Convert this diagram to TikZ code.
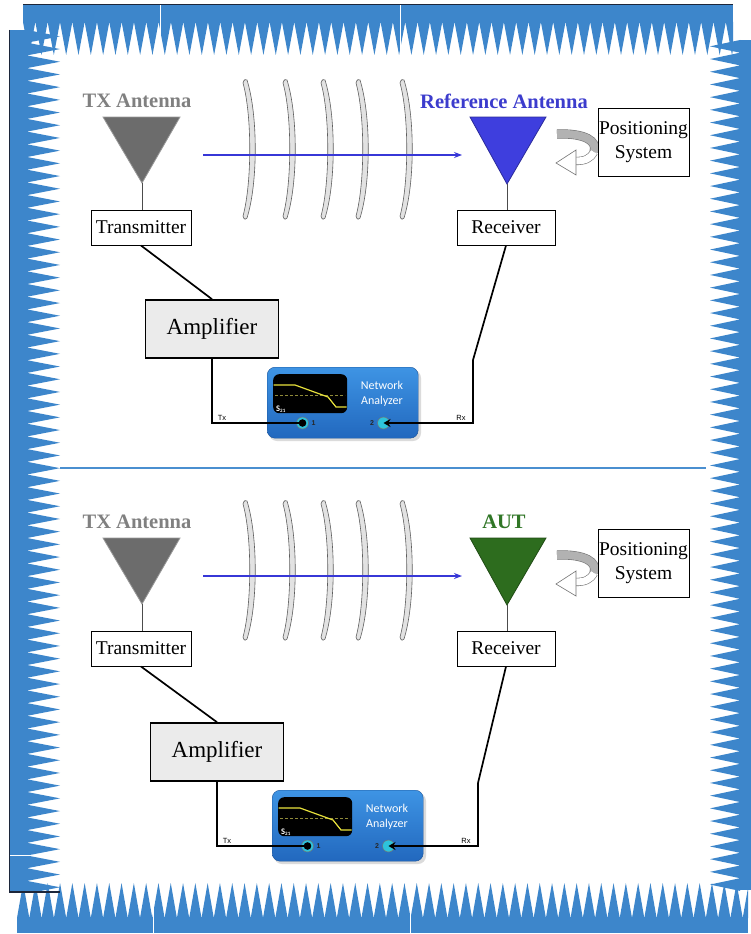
\documentclass[tikz,border=0pt]{standalone}
\usepackage{fontspec}
\setmainfont{Liberation Serif}
\newfontfamily\nafont{Carlito}
\newfontfamily\smallsans{Liberation Sans}
\usetikzlibrary{arrows.meta,calc}

\definecolor{absorber}{RGB}{61,134,203}
\definecolor{absorberedge}{RGB}{28,38,58}
\definecolor{divider}{RGB}{74,143,208}
\definecolor{beam}{RGB}{55,55,215}
\definecolor{txgray}{RGB}{108,108,108}
\definecolor{txlabel}{RGB}{128,128,128}
\definecolor{refblue}{RGB}{62,62,222}
\definecolor{reflabel}{RGB}{60,60,205}
\definecolor{autgreen}{RGB}{45,108,30}
\definecolor{autlabel}{RGB}{48,118,38}
\definecolor{natop}{RGB}{62,148,228}
\definecolor{nabot}{RGB}{34,104,190}
\definecolor{portcyan}{RGB}{45,195,220}
\definecolor{trace}{RGB}{232,226,60}
\definecolor{ampfill}{RGB}{235,235,235}
\definecolor{wavefill}{RGB}{226,226,226}
\definecolor{waveedge}{RGB}{95,95,95}

\tikzset{
  box/.style={draw=black, line width=1pt, fill=white, inner sep=0pt,
    font=\fontsize{19.5}{23}\selectfont},
  ampbox/.style={draw=black, line width=1.6pt, fill=ampfill, inner sep=0pt,
    minimum width=133pt, minimum height=58pt, font=\fontsize{23}{26}\selectfont},
  antlabel/.style={font=\fontsize{20.5}{24}\selectfont\bfseries, inner sep=0pt},
  wire/.style={draw=black, line width=1.7pt},
  feed/.style={draw=black!70, line width=0.8pt},
  wavefront/.style={fill=wavefill, draw=waveedge, line width=0.6pt},
  beamline/.style={draw=beam, line width=1.1pt, -{Stealth[length=8pt,width=6pt]}},
  nabody/.style={rounded corners=8pt, top color=natop, bottom color=nabot,
    draw=nabot!80!black, line width=0.4pt, inner sep=0pt,
    minimum width=151pt, minimum height=71pt},
  screenbox/.style={rounded corners=6pt, fill=black, inner sep=0pt,
    minimum width=74pt, minimum height=39pt},
  port/.style={circle, fill=portcyan, draw=black!55, line width=0.5pt,
    minimum size=12pt, inner sep=0pt},
  portnum/.style={font=\smallsans\bfseries\fontsize{7}{8}\selectfont, text=black!85, inner sep=0pt},
  tinylabel/.style={font=\smallsans\fontsize{7.5}{8}\selectfont, inner sep=0pt},
  seam/.style={draw=white, line width=0.8pt},
}

% one crescent-shaped wavefront whose tips sit at x = #1
\newcommand\wavefront[1]{%
  \filldraw[wavefront] ({#1},83) .. controls ({#1+1},79) and ({#1+3},79) .. ({#1+4},80)
    .. controls ({#1+15},115) and ({#1+15},183) .. ({#1+4},218)
    .. controls ({#1+3},220) and ({#1+1},220) .. ({#1},216)
    .. controls ({#1+9},183) and ({#1+9},115) .. ({#1},83) -- cycle;}

% one measurement set-up:
% #1 receive antenna label, #2 its colour, #3 antenna fill, #4 antenna edge,
% #5 offset of the amplifier / analyser group
\newcommand\antpanel[5]{%
  % transmit side
  \node[antlabel, text=txlabel] (txlbl) at (137,101) {TX Antenna};
  \filldraw[fill=txgray, draw=black!40, line width=0.8pt]
    (103,117) -- (180,117) -- (142,183) -- cycle;
  \coordinate (txtip) at (142,183);
  \node[box, minimum width=100pt, minimum height=35pt] (tx) at (141,227.5) {Transmitter};
  \draw[feed] (txtip) -- (txtip |- tx.north);
  % receive side
  \node[antlabel, text=#2] (rxlbl) at (504,101) {#1};
  \filldraw[fill=#3, draw=#4, line width=0.8pt]
    (470,117) -- (546,117) -- (507,184) -- cycle;
  \coordinate (rxtip) at (507,184);
  \node[box, minimum width=98pt, minimum height=35pt] (rx) at (506,227.5) {Receiver};
  \draw[feed] (rxtip) -- (rxtip |- rx.north);
  % rotation arrow of the positioner
  \draw[draw=black!55, double=black!30, double distance=8pt, line width=0.6pt]
    (557,134) .. controls (585,133) and (598,141) .. (594,152);
  \draw[draw=black!55, double=white, double distance=7pt, line width=0.6pt]
    (594,152) .. controls (590,159) and (585,161) .. (575,161);
  \filldraw[fill=white, draw=black!55, line width=0.6pt]
    (556,163) -- (576,150) -- (576,175) -- cycle;
  \node[box, minimum width=91pt, minimum height=68pt, align=center,
    font=\fontsize{19.5}{24}\selectfont] (pos) at (643.5,142) {Positioning\\System};
  % propagating wavefronts and beam
  \wavefront{243}\wavefront{283}\wavefront{321}\wavefront{356}\wavefront{400}
  \coordinate (beamstart) at (203,155);
  \coordinate (beamend) at (462,155);
  \draw[beamline] (beamstart) -- (beamend);
  % amplifier and network analyser
  \begin{scope}[shift={(#5)}]
    \node[ampbox] (amp) at (212,329) {Amplifier};
    \coordinate (rxbend) at (473,360);
    \fill[black!40, opacity=0.35, rounded corners=8pt] (269,370) rectangle (421,441);
    \node[nabody, anchor=north west] (na) at (267,367) {};
    \begin{scope}[shift={(267,367)}]
      \node[screenbox, anchor=north west] (scr) at (6,7) {};
      \draw[draw=olive!60!gray, densely dashed, line width=0.4pt] (8,28) -- (78,28);
      \draw[draw=trace, line width=1.2pt]
        (6.5,18) -- (28,18) -- (50,26) -- (61,30) -- (69,40) -- (79.5,40);
      \node[text=white, font=\nafont\bfseries\fontsize{8.5}{9}\selectfont, anchor=base west,
        inner sep=0pt] (sparam) at (9,44) {S\raisebox{-1.8pt}{\fontsize{5}{5}\selectfont 21}};
      \node[text=white, font=\nafont\fontsize{12}{15}\selectfont, align=center,
        inner sep=0pt] (natext) at (115,26.5) {Network\\Analyzer};
      \node[port] (p1) at (35.5,56) {};
      \node[port] (p2) at (116.5,56) {};
      \node[portnum] (p1num) at (46.5,56.5) {1};
      \node[portnum] (p2num) at (105,56.5) {2};
    \end{scope}
    \node[tinylabel] (txtag) at (222,418) {Tx};
    \node[tinylabel] (rxtag) at (461,418) {Rx};
  \end{scope}
  % cabling
  \draw[wire] (tx.south) -- (amp.north);
  \draw[wire] (amp.south) -- (amp.south |- p1) -- (p1.center);
  \fill (p1) circle (3.8pt);
  \draw[wire, -{Stealth[length=7pt,width=8pt]}]
    (rx.south) -- (rxbend) -- (rxbend |- p2) -- (p2.center);
}

\begin{document}
\begin{tikzpicture}[x=1pt, y=-1pt]
  \useasboundingbox (0,0) rectangle (751,934);
  \fill[white] (0,0) rectangle (751,934);

  % ---- anechoic absorber lining ----
  % top wall
  \begin{scope}
    \clip (23,0) rectangle (733,60);
    \fill[absorber] (23,4) rectangle (733,23);
    \foreach \i in {0,...,58}
      \fill[absorber] ({23+\i*12.33},22) -- ({35.33+\i*12.33},22) -- ({29.17+\i*12.33},55) -- cycle;
    \draw[seam] (160,4) -- (160,55);
    \draw[seam] (400,4) -- (400,55);
  \end{scope}
  \draw[absorberedge, line width=1.6pt] (23,4.5) -- (733,4.5);
  % bottom wall
  \begin{scope}
    \clip (17,880) rectangle (748,934);
    \fill[absorber] (17,917) rectangle (748,933);
    \foreach \i in {0,...,60}
      \fill[absorber] ({17+\i*12.3},918) -- ({29.3+\i*12.3},918) -- ({23.15+\i*12.3},883) -- cycle;
    \draw[seam] (153,883) -- (153,933);
    \draw[seam] (410,883) -- (410,933);
  \end{scope}
  % left wall
  \begin{scope}
    \clip (9,30) rectangle (62,892);
    \fill[absorber] (9,30) rectangle (28,892);
    \foreach \i in {0,...,68}
      \fill[absorber] (27,{30+\i*12.7}) -- (27,{42.7+\i*12.7}) -- (60,{36.35+\i*12.7}) -- cycle;
    \draw[seam] (9,855) -- (60,855);
  \end{scope}
  \draw[absorberedge, line width=1.4pt] (9.5,30) -- (9.5,892) -- (60,892);
  % right wall
  \begin{scope}
    \clip (708,40) rectangle (751,890);
    \fill[absorber] (739,40) rectangle (751,890);
    \foreach \i in {0,...,67}
      \fill[absorber] (740,{40+\i*12.7}) -- (740,{52.7+\i*12.7}) -- (710,{46.35+\i*12.7}) -- cycle;
  \end{scope}

  % separation between the two measurements
  \coordinate (divl) at (60,468);
  \coordinate (divr) at (706,468);
  \draw[divider, line width=2.4pt] (divl) -- (divr);

  % reference measurement
  \begin{scope}[name prefix=ref-]
    \antpanel{Reference Antenna}{reflabel}{refblue}{refblue!70!black}{0,0}
  \end{scope}

  % antenna-under-test measurement
  \begin{scope}[yshift=-421pt, name prefix=aut-]
    \antpanel{AUT}{autlabel}{autgreen}{autgreen!70!black}{5,2}
  \end{scope}
\end{tikzpicture}
\end{document}
